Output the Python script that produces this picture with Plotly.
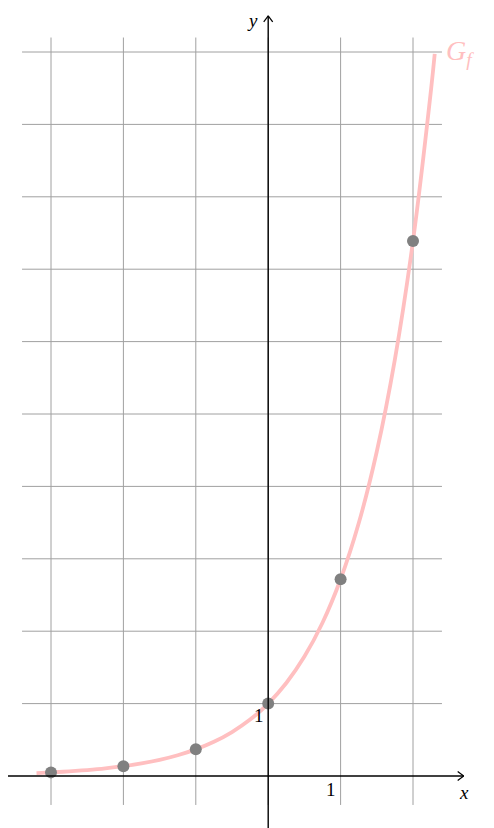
import plotly.graph_objects as go

# sample points of f(x) = e^x (the dots)
point_x = [-3, -2, -1, 0, 1, 2]
point_y = [0.050, 0.135, 0.368, 1.0, 2.718, 7.389]

curve_x = [-3.2, -3.0, -2.75, -2.5, -2.25, -2.0, -1.75, -1.5, -1.25, -1.0,
           -0.75, -0.5, -0.25, 0.0, 0.25, 0.5, 0.75, 1.0, 1.25, 1.5,
           1.75, 2.0, 2.25, 2.3]
curve_y = [0.041, 0.050, 0.064, 0.082, 0.105, 0.135, 0.174, 0.223, 0.287, 0.368,
           0.472, 0.607, 0.779, 1.0, 1.284, 1.649, 2.117, 2.718, 3.490, 4.482,
           5.755, 7.389, 9.488, 9.974]

grid_x = [-3, -2, -1, 0, 1, 2]
grid_y = [1, 2, 3, 4, 5, 6, 7, 8, 9, 10]

W, H = 494, 828
PX = 72.4  # pixels per unit
# page has an 8px body margin, so origin sits 8px earlier in figure coords
x0_px, y0_px = 260.2, 768
x_range = [-x0_px / PX, (W - x0_px) / PX]
y_range = [-(H - y0_px) / PX, y0_px / PX]

grid_col = "#a0a0a0"
pink = "#ffbfc0"
font = "Liberation Serif"

fig = go.Figure()
fig.add_trace(go.Scatter(x=curve_x, y=curve_y, mode="lines", line_shape="spline",
                         line=dict(color=pink, width=3.8), hoverinfo="skip"))
fig.add_trace(go.Scatter(x=point_x, y=point_y, mode="markers",
                         marker=dict(color="#808080", size=12)))

shapes = []
# grid (limited region, like tikz grid)
gx0, gx1 = -3.4, 2.4
gy0, gy1 = -0.4, 10.2
for gx in grid_x:
    shapes.append(dict(type="line", x0=gx, x1=gx, y0=gy0, y1=gy1,
                       line=dict(color=grid_col, width=1), layer="below"))
for gy in grid_y:
    shapes.append(dict(type="line", x0=gx0, x1=gx1, y0=gy, y1=gy,
                       line=dict(color=grid_col, width=1), layer="below"))

# axes
ax_x_end = 2.7
ax_y_end = 10.5
shapes.append(dict(type="line", x0=x_range[0], x1=ax_x_end, y0=0, y1=0,
                   line=dict(color="black", width=1.4)))
shapes.append(dict(type="line", x0=0, x1=0, y0=y_range[0], y1=ax_y_end,
                   line=dict(color="black", width=1.4)))
# open arrow tips
a, b = 6 / PX, 4.5 / PX
for dy in (b, -b):
    shapes.append(dict(type="line", x0=ax_x_end - a, x1=ax_x_end, y0=dy, y1=0,
                       line=dict(color="black", width=1.2)))
for dx in (b, -b):
    shapes.append(dict(type="line", x0=dx, x1=0, y0=ax_y_end - a, y1=ax_y_end,
                       line=dict(color="black", width=1.2)))

annotations = [
    dict(x=ax_x_end, y=0, text="<i>x</i>", showarrow=False, xanchor="center",
         yanchor="top", yshift=-4, font=dict(family=font, size=19, color="black")),
    dict(x=0, y=ax_y_end, text="<i>y</i>", showarrow=False, xanchor="right",
         yanchor="top", xshift=-8, yshift=8, font=dict(family=font, size=19, color="black")),
    dict(x=1, y=0, text="1", showarrow=False, xanchor="right", yanchor="top",
         xshift=-3, yshift=-1, font=dict(family=font, size=19, color="black")),
    dict(x=0, y=1, text="1", showarrow=False, xanchor="right", yanchor="top",
         xshift=-2, yshift=1, font=dict(family=font, size=19, color="black")),
    dict(x=2.4, y=10, text="<i>G<sub>f</sub></i>", showarrow=False, xanchor="left",
         yanchor="middle", xshift=2, font=dict(family=font, size=28, color=pink)),
]

fig.update_layout(
    width=W, height=H,
    margin=dict(l=0, r=0, t=0, b=0),
    plot_bgcolor="white", paper_bgcolor="white",
    showlegend=False,
    shapes=shapes, annotations=annotations,
    xaxis=dict(range=x_range, visible=False, fixedrange=True),
    yaxis=dict(range=y_range, visible=False, fixedrange=True),
)

fig.write_html("out.html")
